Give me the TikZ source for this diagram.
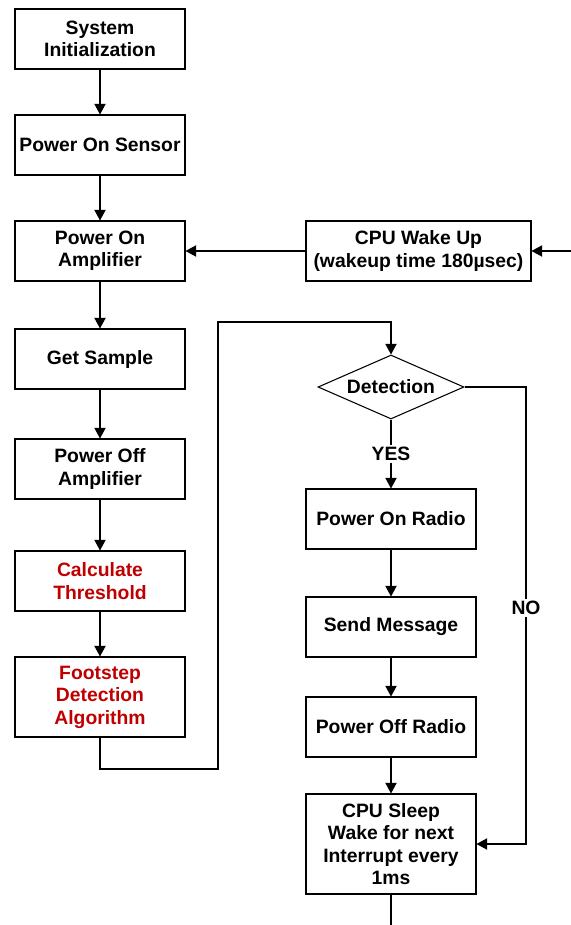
\documentclass[tikz,border=0pt]{standalone}
\usepackage{fontspec}
\setmainfont{Liberation Sans}
\usetikzlibrary{shapes.geometric,arrows.meta}
\definecolor{alert}{HTML}{C00000}
\begin{document}
\begin{tikzpicture}[x=0.75pt,y=-0.75pt,
  box/.style={draw,line width=0.8pt,minimum width=127.5pt,minimum height=45pt,align=center,
    font=\bfseries\fontsize{14.5}{16.8}\selectfont,inner sep=1pt},
  decide/.style={draw,line width=0.8pt,diamond,aspect=2.3,minimum width=109.5pt,minimum height=48pt,
    inner sep=0pt,font=\bfseries\fontsize{14.5}{17}\selectfont},
  flow/.style={line width=0.8pt,-{Triangle[length=8pt,width=8.5pt]}},
  plain/.style={line width=0.8pt},
  lbl/.style={font=\bfseries\fontsize{14.5}{17}\selectfont,fill=white,inner sep=1.5pt}]
\useasboundingbox (0,0) rectangle (571,925);
% left column
\node[box] (init) at (100,39) {System\\Initialization};
\node[box] (sens) at (100,145) {Power On Sensor};
\node[box] (ampon) at (100,251) {Power On\\Amplifier};
\node[box] (samp) at (100,359) {Get Sample};
\node[box] (ampoff) at (100,469) {Power Off\\Amplifier};
\node[box,text=alert] (thr) at (100,581) {Calculate\\Threshold};
\node[box,text=alert,minimum height=60pt] (algo) at (100,697) {Footstep\\Detection\\Algorithm};
% right column
\node[box,minimum width=168.75pt] (wake) at (418.5,251) {CPU Wake Up\\(wakeup time 180µsec)};
\node[decide] (det) at (391,387) {Detection};
\node[box] (radon) at (391,519) {Power On Radio};
\node[box] (msg) at (391,627) {Send Message};
\node[box] (radoff) at (391,727) {Power Off Radio};
\node[box,minimum height=75pt] (sleep) at (391,844) {CPU Sleep\\Wake for next\\Interrupt every\\1ms};
% free ends
\coordinate (inrt) at (571,251);
\coordinate (outb) at (391,925);
% connectors
\draw[flow] (init) -- (sens);
\draw[flow] (sens) -- (ampon);
\draw[flow] (ampon) -- (samp);
\draw[flow] (samp) -- (ampoff);
\draw[flow] (ampoff) -- (thr);
\draw[flow] (thr) -- (algo);
\draw[flow] (inrt) -- (wake);
\draw[flow] (wake) -- (ampon);
\draw[flow] (algo.south) |- (218,769) |- (391,322) -- (det.north);
\draw[flow] (det.south) -- node[lbl,pos=0.5]{YES} (radon.north);
\draw[flow] (radon) -- (msg);
\draw[flow] (msg) -- (radoff);
\draw[flow] (radoff) -- (sleep);
\draw[flow] (det.east) -- (526,387) -- node[lbl,pos=0.484]{NO} (526,844) -- (sleep.east);
\draw[plain] (sleep) -- (outb);
\end{tikzpicture}
\end{document}
